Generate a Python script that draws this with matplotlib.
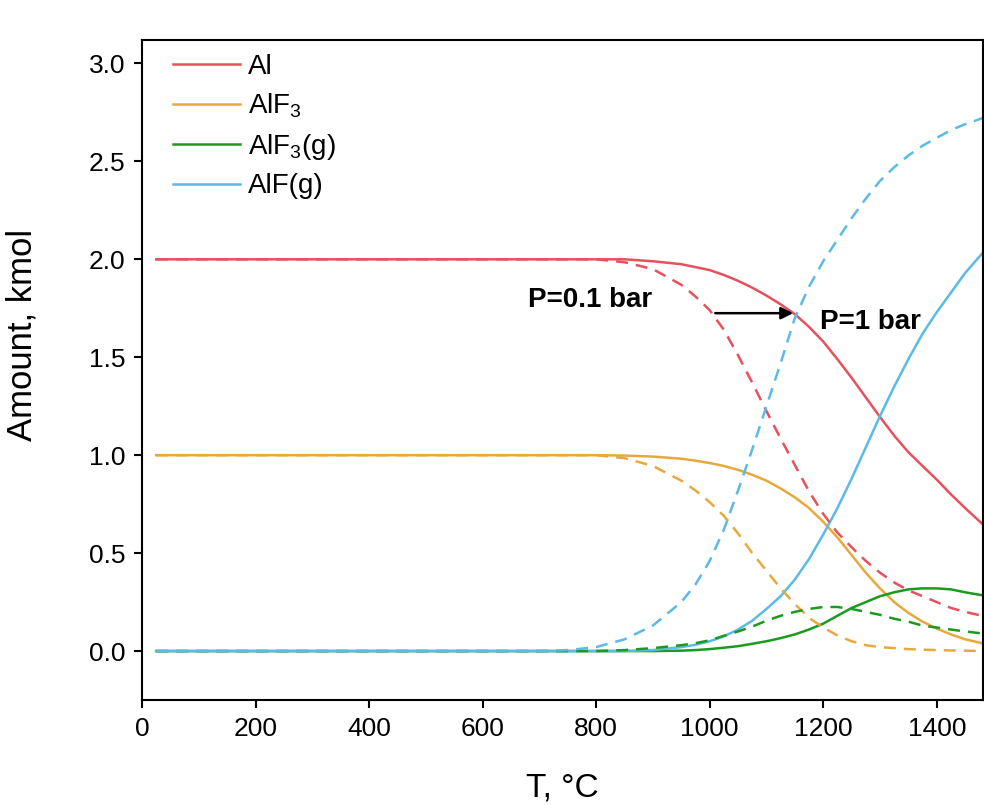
import matplotlib
matplotlib.use("Agg")
import matplotlib.pyplot as plt
import numpy as np

plt.rcParams['font.family'] = ['Liberation Sans', 'DejaVu Sans']
plt.rcParams['mathtext.fontset'] = 'custom'
plt.rcParams['mathtext.rm'] = 'Liberation Sans'
plt.rcParams['mathtext.it'] = 'Liberation Sans:italic'

# temperature grid, degC
T = [25, 100, 200, 300, 400, 500, 600, 700, 750, 800, 850, 900, 950, 975, 1000,
     1025, 1050, 1075, 1100, 1125, 1150, 1175, 1200, 1225, 1250, 1275, 1300,
     1325, 1350, 1375, 1400, 1425, 1450, 1480]

# P = 1 bar (solid)
al_1 = [2.0, 2.0, 2.0, 2.0, 2.0, 2.0, 2.0, 2.0, 2.0, 2.0, 2.0, 1.99, 1.975, 1.96, 1.945,
        1.92, 1.89, 1.855, 1.815, 1.77, 1.72, 1.655, 1.58, 1.49, 1.395, 1.295, 1.195,
        1.10, 1.015, 0.945, 0.875, 0.80, 0.73, 0.65]
alf3_1 = [1.0, 1.0, 1.0, 1.0, 1.0, 1.0, 1.0, 1.0, 1.0, 1.0, 0.998, 0.993, 0.982, 0.972, 0.96,
          0.945, 0.925, 0.90, 0.87, 0.83, 0.785, 0.73, 0.66, 0.58, 0.49, 0.40, 0.32,
          0.25, 0.195, 0.15, 0.115, 0.085, 0.06, 0.04]
alf3g_1 = [0, 0, 0, 0, 0, 0, 0, 0, 0, 0, 0, 0, 0.002, 0.005, 0.01,
           0.017, 0.025, 0.037, 0.05, 0.066, 0.085, 0.11, 0.14, 0.18, 0.22, 0.25, 0.28,
           0.30, 0.315, 0.32, 0.32, 0.315, 0.30, 0.285]
alfg_1 = [0, 0, 0, 0, 0, 0, 0, 0, 0, 0, 0, 0.005, 0.02, 0.032, 0.05,
          0.075, 0.11, 0.155, 0.215, 0.28, 0.365, 0.47, 0.595, 0.73, 0.88, 1.04, 1.20,
          1.35, 1.49, 1.62, 1.73, 1.83, 1.93, 2.03]

# P = 0.1 bar (dashed)
al_01 = [2.0, 2.0, 2.0, 2.0, 2.0, 2.0, 2.0, 2.0, 2.0, 2.0, 1.985, 1.95, 1.87, 1.81, 1.74,
         1.64, 1.51, 1.37, 1.225, 1.085, 0.95, 0.815, 0.70, 0.605, 0.53, 0.46, 0.40,
         0.35, 0.31, 0.28, 0.25, 0.22, 0.20, 0.18]
alf3_01 = [1.0, 1.0, 1.0, 1.0, 1.0, 1.0, 1.0, 1.0, 1.0, 1.0, 0.985, 0.945, 0.87, 0.82, 0.76,
           0.69, 0.60, 0.50, 0.41, 0.32, 0.24, 0.17, 0.12, 0.08, 0.05, 0.03, 0.02,
           0.015, 0.01, 0.007, 0.005, 0.003, 0.002, 0.0]
alf3g_01 = [0, 0, 0, 0, 0, 0, 0, 0, 0, 0, 0.005, 0.015, 0.03, 0.04, 0.055,
            0.078, 0.10, 0.125, 0.155, 0.18, 0.20, 0.215, 0.225, 0.225, 0.215, 0.20, 0.185,
            0.165, 0.15, 0.13, 0.12, 0.11, 0.10, 0.09]
alfg_01 = [0, 0, 0, 0, 0, 0, 0, 0, 0.005, 0.02, 0.06, 0.13, 0.25, 0.34, 0.46,
           0.62, 0.82, 1.03, 1.25, 1.47, 1.70, 1.86, 1.99, 2.10, 2.21, 2.31, 2.40,
           2.47, 2.53, 2.58, 2.62, 2.66, 2.69, 2.72]

labels = ['Al', r'AlF$_3$', r'AlF$_3$(g)', 'AlF(g)']
colors = ['#e6515c', '#e8a93c', '#1b9a1f', '#5bbae7']
solid = [al_1, alf3_1, alf3g_1, alfg_1]
dashed = [al_01, alf3_01, alf3g_01, alfg_01]

fig = plt.figure(figsize=(9.84, 8.05), dpi=100)
ax = fig.add_axes([0.1443, 0.1304, 0.855, 0.82])

for lab, c, y in zip(labels, colors, solid):
    ax.plot(T, y, color=c, lw=1.8, label=lab)
for c, y in zip(colors, dashed):
    ax.plot(T, y, color=c, lw=1.8, ls=(0, (4.8, 3.2)))

ax.set_xlim(0, 1482)
ax.set_ylim(-0.25, 3.12)
ax.set_xticks(np.arange(0, 1401, 200))
ax.set_yticks(np.arange(0, 3.01, 0.5))
ax.yaxis.set_major_formatter(matplotlib.ticker.FormatStrFormatter('%.1f'))
ax.tick_params(direction='out', length=6, width=1.5, labelsize=19, pad=6)
for s in ax.spines.values():
    s.set_linewidth(1.5)

ax.set_xlabel('T, \u00b0C', fontsize=24, labelpad=23)
ax.set_ylabel('Amount, kmol', fontsize=25)
ax.yaxis.set_label_coords(-0.1235, 0.553)

ax.legend(loc='upper left', frameon=False, fontsize=20, handlelength=2.4,
          handletextpad=0.3, labelspacing=0.42, borderpad=0, borderaxespad=0,
          bbox_to_anchor=(0.0368, 0.979))

ax.text(789, 1.79, 'P=0.1 bar', fontsize=20, fontweight='bold', ha='center', va='center')
ax.text(1194, 1.68, 'P=1 bar', fontsize=20, fontweight='bold', ha='left', va='center')
ax.annotate('', xy=(1152, 1.725), xytext=(1005, 1.725),
            arrowprops=dict(arrowstyle='-|>', color='black', lw=1.8, mutation_scale=18))

fig.savefig('out.png', dpi=100)
